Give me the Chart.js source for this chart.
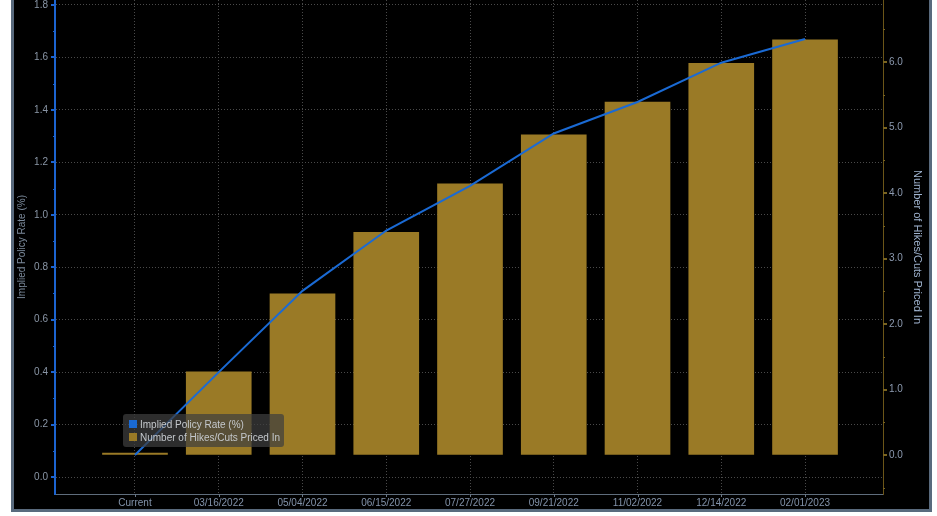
<!DOCTYPE html>
<html>
<head>
<meta charset="utf-8">
<script src="https://cdn.jsdelivr.net/npm/chart.js@4.4.1/dist/chart.umd.min.js"></script>
<style>
    body { margin: 0; background: #ffffff; }
    #marco {
        position: absolute; left: 11px; top: 0;
        width: 915px; height: 509px;
        border: 3px solid #596a7d; border-top: 0;
        background: #000000;
    }
    canvas { display: block; }
</style>
</head>
<body>
<div id="marco"><canvas id="grafico" width="915" height="509"></canvas></div>
<script>
// Datos
const fechas = ['Current', '03/16/2022', '05/04/2022', '06/15/2022', '07/27/2022',
                '09/21/2022', '11/02/2022', '12/14/2022', '02/01/2023'];
const tasaImplicita = [0.084, 0.40, 0.71, 0.94, 1.11, 1.31, 1.43, 1.58, 1.67];
const numeroAlzas = [0.03, 1.27, 2.46, 3.40, 4.14, 4.89, 5.39, 5.98, 6.34];

const ticksIzq = [0, 0.2, 0.4, 0.6, 0.8, 1.0, 1.2, 1.4, 1.6, 1.8];
const ticksIzqMenores = [0.1, 0.3, 0.5, 0.7, 0.9, 1.1, 1.3, 1.5, 1.7];
const ticksDer = [0, 1, 2, 3, 4, 5, 6];
const ticksDerMenores = [-0.5, 0.5, 1.5, 2.5, 3.5, 4.5, 5.5, 6.5];

const colorLinea = '#1a6ad4';
const colorBarra = '#9a7a26';
const fuente = "'Liberation Sans', 'DejaVu Sans', sans-serif";

// Marcas pequenas de los ejes (mayores y menores)
const marcasEjes = {
    id: 'marcasEjes',
    afterDraw(chart) {
        const ctx = chart.ctx;
        const y = chart.scales.y, y1 = chart.scales.y1, x = chart.scales.x;
        ctx.save();
        ctx.fillStyle = '#1c64d0';
        ticksIzq.forEach(v => ctx.fillRect(y.right - 4, Math.round(y.getPixelForValue(v)) - 1, 4, 2));
        ticksIzqMenores.forEach(v => ctx.fillRect(y.right - 2, Math.round(y.getPixelForValue(v)), 2, 1));
        ctx.fillStyle = '#7a6420';
        ticksDer.forEach(v => ctx.fillRect(y1.left, Math.round(y1.getPixelForValue(v)) - 1, 4, 2));
        ticksDerMenores.forEach(v => ctx.fillRect(y1.left, Math.round(y1.getPixelForValue(v)), 2, 1));
        ctx.fillStyle = '#6a7888';
        fechas.forEach((_, i) => ctx.fillRect(Math.round(x.getPixelForValue(i)), x.top, 1, 3));
        ctx.restore();
    }
};

// Leyenda dentro del area del grafico
const leyendaInterna = {
    id: 'leyendaInterna',
    afterDatasetsDraw(chart) {
        const ctx = chart.ctx;
        const area = chart.chartArea;
        const bx = area.left + 68, by = area.top + 414, bw = 161, bh = 33;
        ctx.save();
        ctx.fillStyle = 'rgba(62, 62, 62, 0.72)';
        ctx.beginPath();
        ctx.roundRect(bx, by, bw, bh, 3);
        ctx.fill();
        ctx.font = '10px ' + fuente;
        ctx.textBaseline = 'middle';
        chart.data.datasets.forEach((ds, i) => {
            const cy = by + 10 + i * 13;
            ctx.fillStyle = i === 0 ? colorLinea : colorBarra;
            ctx.fillRect(bx + 6, cy - 4, 8, 8);
            ctx.fillStyle = '#c4c8cc';
            ctx.fillText(ds.label, bx + 17, cy + 1);
        });
        ctx.restore();
    }
};

// Quita el margen que Chart.js reserva para las etiquetas extremas
const sinMargen = (eje) => {
    eje.paddingTop = 0;
    eje.paddingBottom = 0;
    eje.paddingLeft = 0;
    eje.paddingRight = 0;
};

const ctx = document.getElementById('grafico').getContext('2d');

window.graficaTasa = new Chart(ctx, {
    type: 'line',
    data: {
        datasets: [
            {
                type: 'line',
                label: 'Implied Policy Rate (%)',
                data: tasaImplicita.map((v, i) => ({ x: i, y: v })),
                borderColor: colorLinea,
                backgroundColor: colorLinea,
                borderWidth: 2,
                pointRadius: 0,
                tension: 0,
                yAxisID: 'y',
                order: 0
            },
            {
                type: 'bar',
                label: 'Number of Hikes/Cuts Priced In',
                data: numeroAlzas.map((v, i) => ({ x: i, y: v })),
                backgroundColor: colorBarra,
                barThickness: 65,
                yAxisID: 'y1',
                order: 1
            }
        ]
    },
    options: {
        responsive: false,
        animation: false,
        devicePixelRatio: 1,
        layout: { padding: 0 },
        plugins: {
            legend: { display: false },
            tooltip: { enabled: false }
        },
        scales: {
            x: {
                type: 'linear',
                position: 'bottom',
                min: -0.955,
                max: 8.931,
                offset: false,
                afterBuildTicks: (eje) => { eje.ticks = fechas.map((_, i) => ({ value: i })); },
                afterFit: (eje) => { eje.height = 15; sinMargen(eje); },
                ticks: {
                    autoSkip: false,
                    maxRotation: 0,
                    padding: 3,
                    color: '#8393aa',
                    font: { family: fuente, size: 10 },
                    callback: (v) => fechas[v] ?? ''
                },
                grid: {
                    offset: false,
                    color: '#4a4a4a',
                    drawTicks: false
                },
                border: { color: '#5f6d7c', width: 1, dash: [1, 2] }
            },
            y: {
                position: 'left',
                min: -0.0648,
                max: 1.819,
                afterBuildTicks: (eje) => { eje.ticks = ticksIzq.map(v => ({ value: v })); },
                afterFit: (eje) => { eje.width = 41; sinMargen(eje); },
                ticks: {
                    padding: 7,
                    color: '#8a96a6',
                    font: { family: fuente, size: 10 },
                    callback: (v) => Number(v).toFixed(1)
                },
                grid: {
                    color: '#4a4a4a',
                    drawTicks: false
                },
                border: { color: '#1c64d0', width: 2, dash: [1, 2] },
                title: {
                    display: true,
                    text: 'Implied Policy Rate (%)',
                    color: '#7b8a9b',
                    padding: { top: 2, bottom: 0 },
                    font: { family: fuente, size: 10 }
                }
            },
            y1: {
                position: 'right',
                min: -0.595,
                max: 6.947,
                afterBuildTicks: (eje) => { eje.ticks = ticksDer.map(v => ({ value: v })); },
                afterFit: (eje) => { eje.width = 46; sinMargen(eje); },
                ticks: {
                    padding: 6,
                    color: '#8c9ab0',
                    font: { family: fuente, size: 10 },
                    callback: (v) => Number(v).toFixed(1)
                },
                grid: {
                    drawOnChartArea: false,
                    drawTicks: false
                },
                border: { color: '#6b5518', width: 1 },
                title: {
                    display: true,
                    text: 'Number of Hikes/Cuts Priced In',
                    color: '#9fb3cf',
                    padding: { top: 5, bottom: 0 },
                    font: { family: fuente, size: 11 }
                }
            }
        }
    },
    plugins: [marcasEjes, leyendaInterna]
});
</script>
</body>
</html>
